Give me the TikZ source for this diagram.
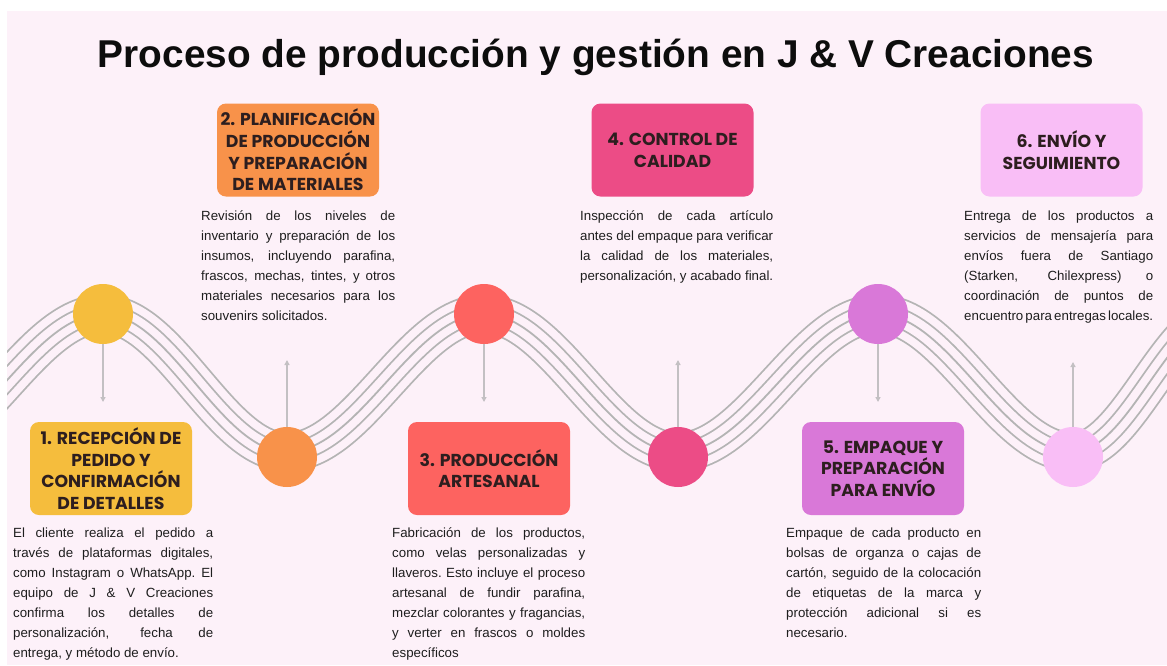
\documentclass[tikz,border=0pt]{standalone}
\usepackage{fontspec}
\setmainfont{Liberation Sans}
\newfontfamily\headfont{Poppins}
\usetikzlibrary{arrows.meta}
\definecolor{bgpink}{HTML}{FDF1F9}
\definecolor{wavegray}{HTML}{B4B4B4}
\definecolor{conngray}{HTML}{C3C0C3}
\definecolor{cA}{HTML}{F5BD3D}
\definecolor{cB}{HTML}{F8924A}
\definecolor{cC}{HTML}{FD6360}
\definecolor{cD}{HTML}{EC4C86}
\definecolor{cE}{HTML}{D978D8}
\definecolor{cF}{HTML}{F9BEF6}
\definecolor{headtxt}{HTML}{2D1E1F}
\definecolor{bodytxt}{HTML}{1E1E1E}
\newlength{\bw}
\newcommand{\jl}[1]{\hbox to \bw{\spaceskip=0.278em plus 1fil minus 0.12em\xspaceskip=\spaceskip #1}}
\newcommand{\lastl}[1]{\hbox to \bw{\spaceskip=0.278em minus 0.12em\xspaceskip=\spaceskip #1\hfil}}
\begin{document}
\begin{tikzpicture}[x=1pt,y=-1pt,
  stepbox/.style={rounded corners=9pt, minimum width=162pt, minimum height=93pt, inner sep=0pt, align=center, text=headtxt, font=\headfont\bfseries\fontsize{17.3}{21.7}\selectfont},
  stepdot/.style={circle, minimum size=60pt, inner sep=0pt},
  bodytext/.style={anchor=base west, inner sep=0pt, align=left, text=bodytxt, font=\fontsize{13.3}{20}\selectfont},
  conn/.style={draw=conngray, line width=1.6pt, -{Triangle[length=5pt,width=5pt]}},
]
\useasboundingbox (0,0) rectangle (1167,665);
\fill[white] (0,0) rectangle (1167,665);
\fill[bgpink] (7,11) rectangle (1167,665);

% waves
\begin{scope}
\clip (7,11) rectangle (1167,665);
\def\wavepath{(-94,452) .. controls (-22.5,452) and (31.5,314) .. (103,314)
  .. controls (169.8,314) and (220.2,452) .. (287,452)
  .. controls (358.5,452) and (412.5,314) .. (484,314)
  .. controls (554.4,314) and (607.6,452) .. (678,452)
  .. controls (750.6,452) and (805.4,314) .. (878,314)
  .. controls (948.8,314) and (1002.2,452) .. (1073,452)
  .. controls (1128.2,452) and (1169.8,314) .. (1225,314)}
\foreach \w/\c in {40/wavegray,36.4/bgpink,20.8/wavegray,17.2/bgpink,1.8/wavegray}{
  \draw[line width=\w pt, draw=\c] \wavepath;
}
\end{scope}

% title
\node[anchor=base, inner sep=0pt, font=\bfseries\fontsize{38.8}{46}\selectfont, text={black!95}] (title) at (596,67.5) {Proceso de producción y gestión en J \& V Creaciones};

% circles
\node[stepdot, fill=cA] (c1) at (103,314) {};
\node[stepdot, fill=cB] (c2) at (287,457) {};
\node[stepdot, fill=cC] (c3) at (484,314) {};
\node[stepdot, fill=cD] (c4) at (678,457) {};
\node[stepdot, fill=cE] (c5) at (878,314) {};
\node[stepdot, fill=cF] (c6) at (1073,457) {};

% connectors
\coordinate (a1) at (103,402);
\coordinate (a2) at (287,360);
\coordinate (a3) at (484,402);
\coordinate (a4) at (678,360);
\coordinate (a5) at (878,402);
\coordinate (a6) at (1073,362);
\draw[conn] (c1) -- (a1);
\draw[conn] (c2) -- (a2);
\draw[conn] (c3) -- (a3);
\draw[conn] (c4) -- (a4);
\draw[conn] (c5) -- (a5);
\draw[conn] (c6) -- (a6);

% boxes
\node[stepbox, fill=cA] (b1) at (111,468.5) {1. RECEPCIÓN DE\\PEDIDO Y\\CONFIRMACIÓN\\DE DETALLES};
\node[stepbox, fill=cB] (b2) at (298,150) {2. PLANIFICACIÓN\\DE PRODUCCIÓN\\Y PREPARACIÓN\\DE MATERIALES};
\node[stepbox, fill=cC] (b3) at (489,468.5) {3. PRODUCCIÓN\\ARTESANAL};
\node[stepbox, fill=cD] (b4) at (672.5,150) {4. CONTROL DE\\CALIDAD};
\node[stepbox, fill=cE] (b5) at (883,468.5) {5. EMPAQUE Y\\PREPARACIÓN\\PARA ENVÍO};
\node[stepbox, fill=cF] (b6) at (1061.5,150) {6. ENVÍO Y\\SEGUIMIENTO};

% body texts
\node[bodytext, text width=200pt] (t1) at (13,537) {\setlength{\bw}{200pt}%
\jl{El cliente realiza el pedido a}
\jl{través de plataformas digitales,}
\jl{como Instagram o WhatsApp. El}
\jl{equipo de J \& V Creaciones}
\jl{confirma los detalles de}
\jl{personalización, fecha de}
\lastl{entrega, y método de envío.}};
\node[bodytext, text width=194pt] (t2) at (201,220) {\setlength{\bw}{194pt}%
\jl{Revisión de los niveles de}
\jl{inventario y preparación de los}
\jl{insumos, incluyendo parafina,}
\jl{frascos, mechas, tintes, y otros}
\jl{materiales necesarios para los}
\lastl{souvenirs solicitados.}};
\node[bodytext, text width=193pt] (t3) at (392,537) {\setlength{\bw}{193pt}%
\jl{Fabricación de los productos,}
\jl{como velas personalizadas y}
\jl{llaveros. Esto incluye el proceso}
\jl{artesanal de fundir parafina,}
\jl{mezclar colorantes y fragancias,}
\jl{y verter en frascos o moldes}
\lastl{específicos}};
\node[bodytext, text width=193pt] (t4) at (580,220) {\setlength{\bw}{193pt}%
\jl{Inspección de cada artículo}
\jl{antes del empaque para verificar}
\jl{la calidad de los materiales,}
\lastl{personalización, y acabado final.}};
\node[bodytext, text width=195pt] (t5) at (786,537) {\setlength{\bw}{195pt}%
\jl{Empaque de cada producto en}
\jl{bolsas de organza o cajas de}
\jl{cartón, seguido de la colocación}
\jl{de etiquetas de la marca y}
\jl{protección adicional si es}
\lastl{necesario.}};
\node[bodytext, text width=189pt] (t6) at (964,220) {\setlength{\bw}{189pt}%
\jl{Entrega de los productos a}
\jl{servicios de mensajería para}
\jl{envíos fuera de Santiago}
\jl{(Starken, Chilexpress) o}
\jl{coordinación de puntos de}
\lastl{encuentro para entregas locales.}};
\end{tikzpicture}
\end{document}
